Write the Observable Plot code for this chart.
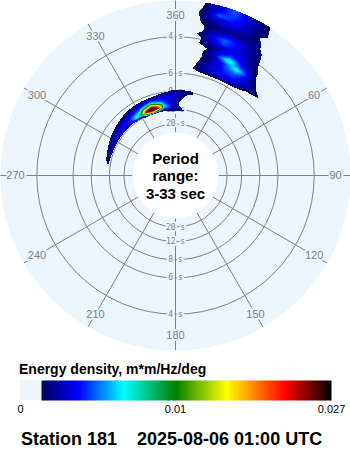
<!DOCTYPE html>
<html><head><meta charset="utf-8">
<script src="https://cdn.jsdelivr.net/npm/d3@7"></script>
<script src="https://cdn.jsdelivr.net/npm/@observablehq/plot@0.6"></script>
<style>
body{margin:0;background:#fff;}
#wrap{position:relative;width:350px;height:450px;overflow:hidden;}
#chart{position:absolute;left:0;top:0;}
#ltitle{position:absolute;left:19px;top:361px;font:bold 14px/16px "Liberation Sans",Arial,sans-serif;color:#000;white-space:nowrap;}
#bar{position:absolute;left:0;top:380px;}
#station{position:absolute;left:21px;top:429px;font:bold 18px/20px "Liberation Sans",Arial,sans-serif;color:#000;white-space:pre;}
</style></head><body>
<div id="wrap">
<div id="chart"></div>
<div id="ltitle"></div>
<div id="bar"></div>
<div id="station"></div>
</div>
<script>
// ---------- data ----------
const stationName = "Station 181";
const stationTime = "2025-08-06 01:00 UTC";
const legendTitle = "Energy density, m*m/Hz/deg";
const periodRange = [3, 33];               // seconds (outer, inner)
const ringPeriods = [4, 6, 8, 12, 20];     // seconds
const dirTicks = [0, 30, 60, 90, 120, 150, 180, 210, 240, 270, 300, 330];
const dirLabels = ["360", "30", "60", "90", "120", "150", "180", "210", "240", "270", "300", "330"];

// swell system: rows = directions (deg, relative to north), columns = frequencies (Hz)
const swellFreqs = [0.070, 0.075, 0.080, 0.085, 0.090, 0.095, 0.100, 0.105, 0.110, 0.115, 0.120, 0.125, 0.130, 0.135];
const swellDirs = [-90, -80, -70, -60, -50, -40, -30, -25, -20, -15, -10, 0, 10, 20];
const swellEnergy = [
  [0, 0, 0, 0, 0, 0, 0, 0, 0, 0, 0, 0, 0, 0],
  [0, 0, 0, 0.0008, 0.0016, 0.0012, 0.0004, 0, 0, 0, 0, 0, 0, 0],
  [0, 0, 0.0002, 0.0012, 0.0021, 0.0020, 0.0012, 0.0004, 0, 0, 0, 0, 0, 0],
  [0, 0, 0.0003, 0.0012, 0.0024, 0.0026, 0.0021, 0.0013, 0.0005, 0, 0, 0, 0, 0],
  [0, 0, 0.0003, 0.0012, 0.0030, 0.0034, 0.0029, 0.0021, 0.0013, 0.0004, 0, 0, 0, 0],
  [0, 0, 0.0004, 0.0013, 0.0040, 0.0042, 0.0036, 0.0028, 0.0020, 0.0013, 0.0004, 0, 0, 0],
  [0, 0, 0.0003, 0.0022, 0.0090, 0.0080, 0.0055, 0.0040, 0.0030, 0.0020, 0.0006, 0, 0, 0],
  [0, 0, 0.0006, 0.0100, 0.0250, 0.0200, 0.0100, 0.0052, 0.0036, 0.0022, 0.0008, 0, 0, 0],
  [0, 0, 0.0012, 0.0180, 0.0270, 0.0270, 0.0160, 0.0070, 0.0042, 0.0024, 0.0009, 0, 0, 0],
  [0, 0, 0.0010, 0.0090, 0.0240, 0.0190, 0.0085, 0.0050, 0.0038, 0.0026, 0.0012, 0.0002, 0, 0],
  [0, 0, 0.0012, 0.0032, 0.0065, 0.0060, 0.0048, 0.0042, 0.0036, 0.0030, 0.0018, 0.0006, 0, 0],
  [0, 0.0006, 0.0020, 0.0022, 0.0019, 0.0018, 0.0019, 0.0024, 0.0028, 0.0030, 0.0028, 0.0020, 0.0006, 0],
  [0, 0, 0.0011, 0.0004, 0, 0, 0, 0, 0.0002, 0.0008, 0.0017, 0.0016, 0.0006, 0],
  [0, 0, 0, 0, 0, 0, 0, 0, 0, 0, 0, 0, 0, 0]
];

// wind sea: rows = frequencies (Hz), columns = directions (deg)
const seaFreqs = [0.16, 0.17, 0.18, 0.19, 0.20, 0.21, 0.22, 0.23, 0.24, 0.25, 0.26, 0.27, 0.28, 0.29, 0.30, 0.31, 0.32, 0.33, 0.34];
const seaDirs = [0, 10, 15, 20, 25, 30, 40, 50];
const seaEnergy = [
  [0, 0, 0, 0, 0, 0, 0, 0],
  [0, 0.0009, 0.0011, 0.0012, 0.0012, 0.0011, 0.0004, 0],
  [0, 0.0015, 0.0022, 0.0030, 0.0032, 0.0032, 0.0012, 0.0004],
  [0, 0.0013, 0.0025, 0.0035, 0.0040, 0.0042, 0.0022, 0.0010],
  [0, 0.0011, 0.0020, 0.0030, 0.0045, 0.0050, 0.0018, 0.0004],
  [0, 0.0010, 0.0018, 0.0030, 0.0050, 0.0070, 0.0016, 0],
  [0, 0.0008, 0.0020, 0.0045, 0.0075, 0.0045, 0.0012, 0],
  [0, 0.0008, 0.0015, 0.0030, 0.0045, 0.0035, 0.0011, 0],
  [0, 0.0014, 0.0022, 0.0028, 0.0034, 0.0030, 0.0008, 0],
  [0, 0.0012, 0.0030, 0.0045, 0.0035, 0.0028, 0.0007, 0],
  [0, 0.0016, 0.0035, 0.0050, 0.0038, 0.0026, 0.0006, 0],
  [0, 0.0011, 0.0025, 0.0032, 0.0030, 0.0024, 0.0005, 0],
  [0, 0.0013, 0.0017, 0.0020, 0.0020, 0.0019, 0.0004, 0],
  [0, 0.0015, 0.0022, 0.0028, 0.0024, 0.0018, 0.0004, 0],
  [0, 0.0016, 0.0030, 0.0038, 0.0030, 0.0015, 0.0003, 0],
  [0, 0.0017, 0.0048, 0.0042, 0.0030, 0.0020, 0.0003, 0],
  [0, 0.0015, 0.0036, 0.0046, 0.0032, 0.0019, 0.0002, 0],
  [0, 0.0014, 0.0034, 0.0048, 0.0030, 0.0018, 0.0002, 0],
  [0, 0.0014, 0.0034, 0.0048, 0.0030, 0.0018, 0.0002, 0]
];

// colour scale
const colorStopValues = [0.00135, 0.00374, 0.00665, 0.0100, 0.01556, 0.01872, 0.02199, 0.02450, 0.0270];
const colorStopColors = ["#00005e", "#0000ff", "#00ffff", "#008000", "#ffff00", "#ff8000", "#ff0000", "#800000", "#000000"];
const legendStops = [0, 0.00135, 0.01, 0.027];
const legendTicks = [0, 0.01, 0.027];
const legendTickLabels = ["0", "0.01", "0.027"];

// ---------- drawing ----------
const DISK = "#edf5fd", GRID = "#808080";
const rScale = d3.scaleLinear([1 / periodRange[1], 1 / periodRange[0]], [43, 175]);
const R_IN = rScale(1 / periodRange[1]), R_OUT = rScale(1 / periodRange[0]);
const LABEL_R = 160;
const thr = colorStopValues[0];
const rad = (d) => d * Math.PI / 180;
const colorScale = {type: "linear", domain: colorStopValues, range: colorStopColors, clamp: true};

function gridValue(freqs, dirs, grid, f, d) {
  if (f < freqs[0] || f > freqs[freqs.length - 1] || d < dirs[0] || d > dirs[dirs.length - 1]) return 0;
  const i = Math.max(0, Math.min(d3.bisectRight(freqs, f) - 1, freqs.length - 2));
  const j = Math.max(0, Math.min(d3.bisectRight(dirs, d) - 1, dirs.length - 2));
  const tf = (f - freqs[i]) / (freqs[i + 1] - freqs[i]);
  const td = (d - dirs[j]) / (dirs[j + 1] - dirs[j]);
  const a = grid[i][j], b = grid[i][j + 1], c = grid[i + 1][j], e = grid[i + 1][j + 1];
  return (1 - tf) * ((1 - td) * a + td * b) + tf * ((1 - td) * c + td * e);
}
const swellGrid = d3.transpose(swellEnergy); // -> [freq][dir]
function energyAt(x, y) {
  const r = Math.hypot(x, y);
  if (r < R_IN || r > R_OUT) return NaN;
  const f = rScale.invert(r);
  const d = Math.atan2(x, y) * 180 / Math.PI;
  const v = gridValue(swellFreqs, swellDirs, swellGrid, f, d) + gridValue(seaFreqs, seaDirs, seaEnergy, f, d);
  return v >= thr ? v : NaN;
}

const centre = [{x: 0, y: 0}];
const ringLabelPts = ringPeriods.flatMap((p) => [{p, s: 1}, {p, s: -1}]);

const chart = Plot.plot({
  width: 350, height: 350, margin: 0,
  style: {fontFamily: "'Liberation Sans', Arial, sans-serif", background: "transparent"},
  x: {domain: [-R_OUT, R_OUT], axis: null},
  y: {domain: [-R_OUT, R_OUT], axis: null},
  r: {type: "identity"},
  color: colorScale,
  marks: [
    Plot.dot(centre, {x: "x", y: "y", r: () => R_OUT, fill: DISK, stroke: null}),
    Plot.dot(ringPeriods, {x: () => 0, y: () => 0, r: (p) => rScale(1 / p), fill: "none", stroke: GRID, strokeWidth: 1}),
    Plot.link(dirTicks, {
      x1: (d) => R_IN * Math.sin(rad(d)), y1: (d) => R_IN * Math.cos(rad(d)),
      x2: (d) => R_OUT * Math.sin(rad(d)), y2: (d) => R_OUT * Math.cos(rad(d)),
      stroke: GRID, strokeWidth: 1
    }),
    Plot.text(ringLabelPts, {
      x: () => 0, y: (d) => d.s * rScale(1 / d.p), text: (d) => `${d.p} s`,
      fontSize: 8, fontFamily: "'DejaVu Sans Mono', monospace", fill: GRID,
      stroke: DISK, strokeWidth: 4
    }),
    Plot.text(dirTicks, {
      x: (d) => LABEL_R * Math.sin(rad(d)), y: (d) => LABEL_R * Math.cos(rad(d)),
      text: (d, i) => dirLabels[i], fontSize: 11, fill: GRID, stroke: DISK, strokeWidth: 4
    }),
    Plot.raster({
      x1: -R_OUT, x2: R_OUT, y1: -R_OUT, y2: R_OUT, pixelSize: 1,
      fill: (x, y) => energyAt(x, y),
      fillOpacity: (x, y) => (isNaN(energyAt(x, y)) ? 0 : 1),
      imageRendering: "pixelated"
    }),
    Plot.dot(centre, {x: "x", y: "y", r: () => R_IN, fill: "white", stroke: null}),
    Plot.text(centre, {
      x: "x", y: "y", text: () => `Period\nrange:\n${periodRange[0]}-${periodRange[1]} sec`,
      fontSize: 15, fontWeight: "bold", lineHeight: 1.17, fill: "black"
    })
  ]
});
document.getElementById("chart").append(chart);

const bar = Plot.plot({
  width: 350, height: 37, marginTop: 0, marginBottom: 17, marginLeft: 20, marginRight: 19,
  style: {fontFamily: "'Liberation Sans', Arial, sans-serif", fontSize: "11px", background: "transparent", color: "#000"},
  x: {type: "linear", domain: legendStops, range: [20, 41, 175, 331], axis: null},
  y: {domain: [0, 1], axis: null},
  color: colorScale,
  marks: [
    Plot.rect([legendStops], {x1: (d) => d[0], x2: (d) => d[1], y1: () => 0, y2: () => 1, fill: DISK}),
    Plot.raster({
      x1: legendStops[1], x2: legendStops[3], y1: 0, y2: 1, pixelSize: 1,
      fill: (x) => Math.max(x, thr)
    }),
    Plot.axisX(legendTicks, {tickSize: 0, tickPadding: 5, tickFormat: (d, i) => legendTickLabels[i], fontSize: 11, fill: "#000"})
  ]
});
document.getElementById("bar").append(bar);
document.getElementById("ltitle").textContent = legendTitle;
document.getElementById("station").textContent = `${stationName}    ${stationTime}`;
</script>
</body></html>
